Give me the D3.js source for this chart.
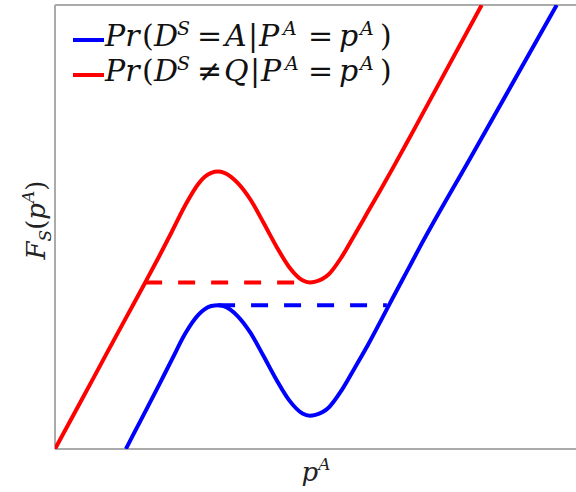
<!DOCTYPE html>
<html>
<head>
<meta charset="utf-8">
<script src="https://cdn.jsdelivr.net/npm/d3@7"></script>
<style>
  html, body { margin: 0; padding: 0; background: #fff; }
  svg { display: block; }
  .math { font-family: "DejaVu Serif", "Liberation Serif", serif; }
</style>
</head>
<body>
<svg id="chart" width="576" height="492"></svg>
<script>
// Curve samples (p^A, F_S) for the two probability curves
const redX  = [0, 0.5, 1.0, 1.5, 1.75, 2.0, 2.25, 2.5, 2.75, 2.875, 3.0, 3.13, 3.25, 3.5, 3.75, 4.0, 4.25, 4.5, 4.75, 4.89, 5.0, 5.25, 5.5, 5.75, 6.0, 6.25, 6.5, 6.75, 7.0, 7.5, 8.19];
const redY  = [0, 1.08, 2.17, 3.25, 3.79, 4.34, 4.91, 5.49, 5.97, 6.13, 6.22, 6.25, 6.22, 6.00, 5.62, 5.10, 4.56, 4.09, 3.80, 3.75, 3.77, 3.93, 4.32, 4.82, 5.33, 5.84, 6.36, 6.89, 7.43, 8.51, 10.0];
const blueX = [1.36, 1.5, 1.75, 2.0, 2.25, 2.5, 2.75, 2.875, 3.0, 3.13, 3.25, 3.5, 3.75, 4.0, 4.25, 4.5, 4.75, 4.89, 5.0, 5.25, 5.5, 5.75, 6.0, 6.25, 6.5, 6.75, 7.0, 8.0, 9.63];
const blueY = [0, 0.32, 0.88, 1.45, 2.03, 2.60, 3.02, 3.15, 3.22, 3.24, 3.21, 3.00, 2.62, 2.10, 1.56, 1.09, 0.80, 0.75, 0.77, 0.93, 1.32, 1.82, 2.33, 2.88, 3.44, 3.99, 4.54, 6.61, 10.0];

// Horizontal dashed jumps: [x start, x end, level]
const redJump  = [1.73, 4.89, 3.75];
const blueJump = [3.13, 6.37, 3.24];

const seriesColors = ["#0000ff", "#ff0000"];

(function draw() {
  const svg = d3.select("#chart");
  const mLeft = 55, mRight = 582, mTop = 5, mBottom = 449;

  const x = d3.scaleLinear().domain([0, 10]).range([mLeft, 576]);
  const y = d3.scaleLinear().domain([0, 10]).range([mBottom, mTop]);

  svg.append("defs").append("clipPath").attr("id", "plotClip")
    .append("rect").attr("x", mLeft).attr("y", mTop)
    .attr("width", mRight - mLeft).attr("height", mBottom - mTop);

  const frameColor = "#ababab";
  // Frame: left, top, bottom edges
  svg.append("line").attr("x1", mLeft).attr("x2", mLeft).attr("y1", mTop).attr("y2", mBottom)
    .attr("stroke", frameColor).attr("stroke-width", 2);
  svg.append("line").attr("x1", mLeft).attr("x2", mRight).attr("y1", mTop).attr("y2", mTop)
    .attr("stroke", frameColor).attr("stroke-width", 2);
  svg.append("line").attr("x1", mLeft).attr("x2", mRight).attr("y1", mBottom).attr("y2", mBottom)
    .attr("stroke", frameColor).attr("stroke-width", 2);

  const plot = svg.append("g").attr("clip-path", "url(#plotClip)");

  const line = d3.line()
    .x(d => x(d[0])).y(d => y(d[1]))
    .curve(d3.curveMonotoneX);

  const curves = [
    { pts: d3.zip(blueX, blueY), jump: blueJump, color: seriesColors[0] },
    { pts: d3.zip(redX, redY), jump: redJump, color: seriesColors[1] }
  ];

  curves.forEach(c => {
    plot.append("line")
      .attr("x1", x(c.jump[0])).attr("x2", x(c.jump[1]))
      .attr("y1", y(c.jump[2])).attr("y2", y(c.jump[2]))
      .attr("stroke", c.color).attr("stroke-width", 4)
      .attr("stroke-dasharray", "17,16");
    plot.append("path")
      .attr("d", line(c.pts))
      .attr("fill", "none")
      .attr("stroke", c.color)
      .attr("stroke-width", 4);
  });

  // Legend: each math piece is set at its own horizontal position
  const legendRows = [
    { color: seriesColors[0], rel: "=", rhs: "A", rx: 225, bar: 248, p2: 259, a2: 283 },
    { color: seriesColors[1], rel: "\u2260", rhs: "Q", rx: 224, bar: 250, p2: 261, a2: 285 }
  ];

  legendRows.forEach((r, i) => {
    const ly = 40 + i * 35;
    const base = ly + 6;
    svg.append("line")
      .attr("x1", 73).attr("x2", 104).attr("y1", ly).attr("y2", ly)
      .attr("stroke", r.color).attr("stroke-width", 4);
    const pieces = [
      { t: "Pr", x: 105, it: true },
      { t: "(", x: 142, it: false },
      { t: "D", x: 154, it: true },
      { t: "S", x: 177, it: true, sup: true },
      { t: r.rel, x: 197, it: false },
      { t: r.rhs, x: r.rx, it: true },
      { t: "|", x: r.bar, it: false },
      { t: "P", x: r.p2, it: true },
      { t: "A", x: r.a2, it: true, sup: true },
      { t: "=", x: 308, it: false },
      { t: "p", x: 339, it: true },
      { t: "A", x: 360, it: true, sup: true },
      { t: ")", x: 380, it: false }
    ];
    const g = svg.append("text").attr("class", "math").attr("fill", "#111");
    pieces.forEach(p => {
      g.append("tspan")
        .attr("x", p.x)
        .attr("y", p.sup ? base - 11 : base)
        .attr("font-size", p.sup ? 19 : 30)
        .attr("font-style", p.it ? "italic" : "normal")
        .text(p.t);
    });
  });

  // Axis labels
  const xl = svg.append("text").attr("class", "math")
    .attr("x", 316).attr("y", 481)
    .attr("text-anchor", "middle")
    .attr("font-size", 26).attr("fill", "#222");
  xl.append("tspan").text("p").attr("font-style", "italic");
  xl.append("tspan").text("A").attr("font-style", "italic").attr("font-size", 17).attr("dy", -11);

  const yl = svg.append("text").attr("class", "math")
    .attr("transform", "translate(45,220) rotate(-90)")
    .attr("text-anchor", "middle")
    .attr("font-size", 26).attr("fill", "#222");
  yl.append("tspan").text("F").attr("font-style", "italic");
  yl.append("tspan").text("S").attr("font-style", "italic").attr("font-size", 17).attr("dy", 6);
  yl.append("tspan").text("(").attr("dy", -6);
  yl.append("tspan").text("p").attr("font-style", "italic");
  yl.append("tspan").text("A").attr("font-style", "italic").attr("font-size", 17).attr("dy", -11);
  yl.append("tspan").text(")").attr("dy", 11);
})();
</script>
</body>
</html>
